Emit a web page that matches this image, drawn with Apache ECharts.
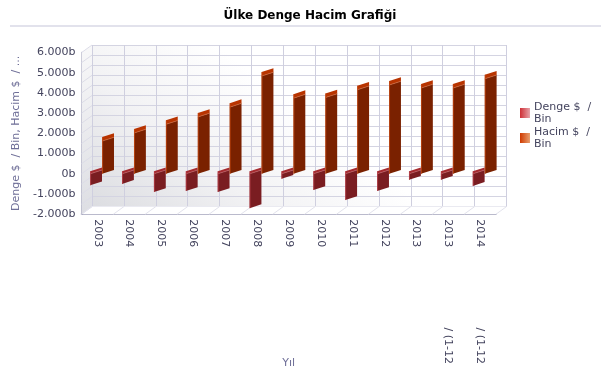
<!DOCTYPE html>
<html>
<head>
<meta charset="utf-8">
<script src="https://cdn.jsdelivr.net/npm/echarts@6/dist/echarts.min.js"></script>
<style>
html, body { margin: 0; padding: 0; background: #fff; }
#chart { width: 610px; height: 372px; }
</style>
</head>
<body>
<div id="chart"></div>
<script>
var gap = '                       '
var categories = ['2003', '2004', '2005', '2006', '2007', '2008', '2009', '2010', '2011', '2012', '2013', '2013' + gap + '/ (1-12', '2014' + gap + '/ (1-12']
var denge = [-570, -500, -900, -850, -900, -1700, -250, -800, -1300, -850, -300, -300, -600]
var hacim = [1620, 2020, 2450, 2815, 3300, 4840, 3745, 3775, 4160, 4395, 4245, 4245, 4705]
var wallTicks = [-2000, -1500, -1000, -500, 0, 500, 1000, 1500, 2000, 2500, 3000, 3500, 4000, 4500, 5000, 5500, 6000]
var floorTicks = [0, 1, 2, 3, 4, 5, 6, 7, 8, 9, 10, 11, 12, 13]

var depthX = 10.5
var depthY = 7.6
var labelColor = '#44445e'
var nameColor = '#6f6f98'

var chart = echarts.init(document.getElementById('chart'))

// bar drawn as a skewed face with a small cap on top, like the old 3d column look
function barRender(offset, face, cap, edge, shine) {
  return function(params, api) {
    var band = api.size([1, 0])[0]
    var v = api.value(1)
    var left = api.coord([api.value(0), 0])[0] + offset * band
    var w = band * 0.37
    var rise = 3.8
    var zero = api.coord([0, 0])[1]
    var y = api.coord([0, v])[1]
    var faceTop = Math.min(y, zero)
    var faceBottom = Math.max(y, zero)
    var capH = v < 0 ? 2.6 : 4
    return {
      type: 'group',
      children: [
        { type: 'polygon', shape: { points: [[left, faceTop], [left + w, faceTop - rise], [left + w, faceBottom - rise], [left, faceBottom]] }, style: { fill: face } },
        { type: 'polygon', shape: { points: [[left, faceTop - capH], [left + w, faceTop - capH - rise], [left + w, faceTop - rise], [left, faceTop]] }, style: { fill: cap } },
        { type: 'line', shape: { x1: left, y1: faceTop, x2: left + w, y2: faceTop - rise }, style: { stroke: shine, lineWidth: 0.8 } },
        { type: 'line', shape: { x1: left + 0.4, y1: faceTop - capH, x2: left + 0.4, y2: faceBottom }, style: { stroke: edge, lineWidth: 0.8 } }
      ]
    }
  }
}

var option = {
  animation: false,
  textStyle: { fontFamily: 'DejaVu Sans' },
  title: {
    text: 'Ülke Denge Hacim Grafiği',
    left: 305,
    top: 5,
    textAlign: 'center',
    textStyle: { fontSize: 12, fontWeight: 'bold', color: '#000', fontFamily: 'DejaVu Sans' }
  },
  graphic: [{
    type: 'line',
    shape: { x1: 10, y1: 26, x2: 601, y2: 26 },
    style: { stroke: '#d9d9e6', lineWidth: 1.5 }
  }],
  legend: {
    left: 520,
    top: 101,
    padding: 0,
    orient: 'vertical',
    icon: 'rect',
    itemWidth: 10,
    itemHeight: 10,
    itemGap: 1,
    data: ['Denge $  / Bin', 'Hacim $  / Bin'],
    formatter: function(name) {
      return name.replace(' / ', ' /\n')
    },
    textStyle: { fontSize: 11, lineHeight: 12, color: labelColor, padding: [0, 0, 0, -1] }
  },
  grid: [
    { left: 81.5, top: 52.6, width: 414.5, height: 161.6, outerBoundsMode: 'none' },
    {
      left: 81.5 + depthX, top: 52.6 - depthY, width: 414.5, height: 161.6,
      outerBoundsMode: 'none',
      show: true, borderWidth: 0,
      backgroundColor: new echarts.graphic.LinearGradient(0, 1, 0.3, 0, [
        { offset: 0, color: '#dcdde1' },
        { offset: 0.5, color: '#f2f2f4' },
        { offset: 1, color: '#ffffff' }
      ])
    }
  ],
  xAxis: [
    {
      type: 'category', gridIndex: 0, data: categories,
      name: 'Yıl', nameLocation: 'middle', nameGap: 143, nameMoveOverlap: false,
      nameTextStyle: { color: nameColor, fontSize: 11 },
      axisLine: { show: true, onZero: false, lineStyle: { color: '#8585a6', width: 1.5 } },
      axisTick: { show: false },
      axisLabel: { rotate: -90, interval: 0, margin: 5, fontSize: 11, color: labelColor, align: 'left', verticalAlign: 'middle' },
      splitLine: { show: false }
    },
    {
      type: 'category', gridIndex: 1, data: categories,
      axisLine: { show: false }, axisTick: { show: false }, axisLabel: { show: false },
      splitLine: { show: true, interval: 0, showMaxLine: true, showMinLine: true, lineStyle: { color: '#cfcfdf', width: 1 } }
    }
  ],
  yAxis: [
    {
      type: 'value', gridIndex: 0, min: -2000, max: 6000, interval: 1000,
      name: 'Denge $  / Bin, Hacim $  / ...', nameLocation: 'middle', nameGap: 60,
      nameTextStyle: { color: nameColor, fontSize: 11 },
      axisLine: { show: true, lineStyle: { color: '#8585a6', width: 1.5 } },
      axisTick: { show: false },
      axisLabel: {
        margin: 6, fontSize: 11, color: labelColor,
        formatter: function(v) {
          return v === 0 ? '0b' : (v / 1000) + '.000b'
        }
      },
      splitLine: { show: false }
    },
    {
      type: 'value', gridIndex: 1, min: -2000, max: 6000, interval: 500,
      axisLine: { show: false }, axisTick: { show: false }, axisLabel: { show: false },
      splitLine: { show: true, lineStyle: { color: '#d4d4e2', width: 1 } }
    }
  ],
  series: [
    {
      // side wall and floor, only the fill
      type: 'custom', xAxisIndex: 0, yAxisIndex: 0, silent: true, z: 1,
      data: [0],
      renderItem: function(params, api) {
        var c = params.coordSys
        var l = c.x, r = c.x + c.width, t = c.y, b = c.y + c.height
        return {
          type: 'group',
          children: [
            {
              type: 'polygon',
              shape: { points: [[l, t], [l + depthX, t - depthY], [l + depthX, b - depthY], [l, b]] },
              style: { fill: new echarts.graphic.LinearGradient(0, 0, 0, 1, [{ offset: 0, color: '#f8f8f9' }, { offset: 1, color: '#dddee3' }]) }
            },
            {
              type: 'polygon',
              shape: { points: [[l, b], [l + depthX, b - depthY], [r + depthX, b - depthY], [r, b]] },
              style: { fill: '#ffffff' }
            }
          ]
        }
      }
    },
    {
      // lines across the side wall
      type: 'custom', xAxisIndex: 0, yAxisIndex: 0, silent: true, z: 2,
      data: wallTicks.map(function(v) { return [0, v] }),
      renderItem: function(params, api) {
        var y = api.coord([0, api.value(1)])[1]
        var x = params.coordSys.x
        return { type: 'line', shape: { x1: x, y1: y, x2: x + depthX, y2: y - depthY }, style: { stroke: '#dcdce8', lineWidth: 1 } }
      }
    },
    {
      // lines across the floor
      type: 'custom', xAxisIndex: 0, yAxisIndex: 0, silent: true, z: 2,
      data: floorTicks.map(function(v) { return [v, -2000] }),
      renderItem: function(params, api) {
        var c = params.coordSys
        var x = c.x + api.value(0) * c.width / categories.length
        var y = c.y + c.height
        return { type: 'line', shape: { x1: x, y1: y, x2: x + depthX, y2: y - depthY }, style: { stroke: '#e2e2ec', lineWidth: 1 } }
      }
    },
    {
      name: 'Denge $  / Bin',
      type: 'custom', xAxisIndex: 0, yAxisIndex: 0, z: 3,
      itemStyle: { color: new echarts.graphic.LinearGradient(0, 0, 1, 0, [{ offset: 0, color: '#cf2f36' }, { offset: 1, color: '#e6a3aa' }]) },
      data: denge.map(function(v, i) { return [i, v] }),
      renderItem: barRender(-0.227, '#7a1d21', '#a52a2f', '#b8404a', '#b85a60')
    },
    {
      name: 'Hacim $  / Bin',
      type: 'custom', xAxisIndex: 0, yAxisIndex: 0, z: 3,
      itemStyle: { color: new echarts.graphic.LinearGradient(0, 0, 1, 0, [{ offset: 0, color: '#cf3a00' }, { offset: 1, color: '#e8a070' }]) },
      data: hacim.map(function(v, i) { return [i, v] }),
      renderItem: barRender(0.149, '#7a2100', '#b83400', '#c4460f', '#c8663c')
    }
  ]
}
chart.setOption(option)
window.addEventListener('resize', function() {
  chart.resize()
})
</script>
</body>
</html>
